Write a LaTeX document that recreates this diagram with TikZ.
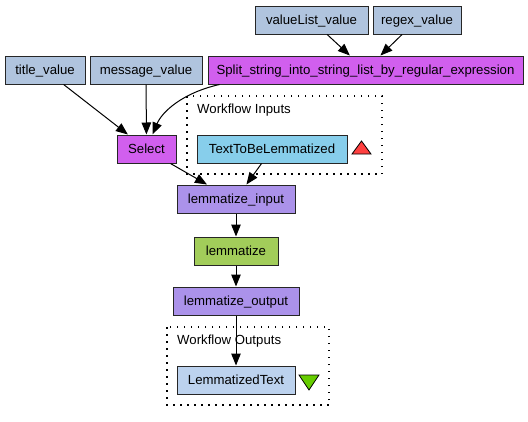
\documentclass[tikz,border=0pt]{standalone}
\usepackage{fontspec}
\setmainfont{Liberation Sans}
\usetikzlibrary{arrows.meta}
\definecolor{steel}{HTML}{B0C4DE}
\definecolor{orchid}{HTML}{D15FEE}
\definecolor{splitter}{HTML}{AB92EA}
\definecolor{wsdl}{HTML}{A2CD5A}
\definecolor{inport}{HTML}{87CEEB}
\definecolor{outport}{HTML}{BCD2EE}
\definecolor{inarrow}{HTML}{FF4040}
\definecolor{outarrow}{HTML}{66CD00}
\tikzset{
  box/.style={draw=black!85, line width=1pt, rectangle, inner sep=0pt,
    minimum height=28pt, text height=9.5pt, text depth=0.5pt,
    font=\fontsize{13.2}{15}\selectfont},
  edge/.style={draw=black, line width=1pt, -{Triangle[length=12pt,width=9.5pt]}},
  cluster/.style={draw=black, line width=1.1pt, dash pattern=on 1.5pt off 5.5pt},
  clabel/.style={anchor=base west, inner sep=0pt, font=\fontsize{13.2}{15}\selectfont},
  tri/.style={draw=black, line width=0.8pt}
}
\begin{document}
\begin{tikzpicture}[x=1pt,y=-1pt]
\useasboundingbox (0,0) rectangle (528,421);
% clusters
\draw[cluster] (187,96) rectangle (382,174);
\node[clabel] (inlabel) at (197,113) {Workflow Inputs};
\draw[cluster] (167,327) rectangle (329,405);
\node[clabel] (outlabel) at (177,344) {Workflow Outputs};
% nodes
\node[box, fill=steel, minimum width=80pt] (title) at (45,70) {title\_value};
\node[box, fill=steel, minimum width=112pt] (message) at (146,70) {message\_value};
\node[box, fill=orchid, minimum width=315pt] (split) at (365.5,70) {Split\_string\_into\_string\_list\_by\_regular\_expression};
\node[box, fill=steel, minimum width=113pt] (valuelist) at (311.5,20) {valueList\_value};
\node[box, fill=steel, minimum width=88pt] (regex) at (417,20) {regex\_value};
\node[box, fill=orchid, minimum width=59pt] (select) at (146.5,149) {Select};
\node[box, fill=inport, minimum width=150pt] (text) at (272,149) {TextToBeLemmatized};
\node[box, fill=splitter, minimum width=118pt] (linput) at (236,199) {lemmatize\_input};
\node[box, fill=wsdl, minimum width=84pt] (lemm) at (236,251) {lemmatize};
\node[box, fill=splitter, minimum width=126pt] (loutput) at (236,301) {lemmatize\_output};
\node[box, fill=outport, minimum width=118pt] (ltext) at (236,380) {LemmatizedText};
% triangles
\filldraw[tri, fill=inarrow] (352,154) -- (371,154) -- (361.5,141) -- cycle;
\filldraw[tri, fill=outarrow] (299,375) -- (319,375) -- (309,390) -- cycle;
% edges
\draw[edge] (title) -- (select);
\draw[edge] (message) -- (select);
\draw[edge] (valuelist) -- (split);
\draw[edge] (regex) -- (split);
\draw[edge] ([xshift=12pt]split.south west) .. controls (182,93) and (162,112) .. ([xshift=6pt]select.north);
\draw[edge] ([xshift=-6pt]select.south east) -- ([xshift=-29pt]linput.north);
\draw[edge] (text) -- (linput);
\draw[edge] (linput) -- (lemm);
\draw[edge] (lemm) -- (loutput);
\draw[edge] (loutput) -- (ltext);
\end{tikzpicture}
\end{document}
